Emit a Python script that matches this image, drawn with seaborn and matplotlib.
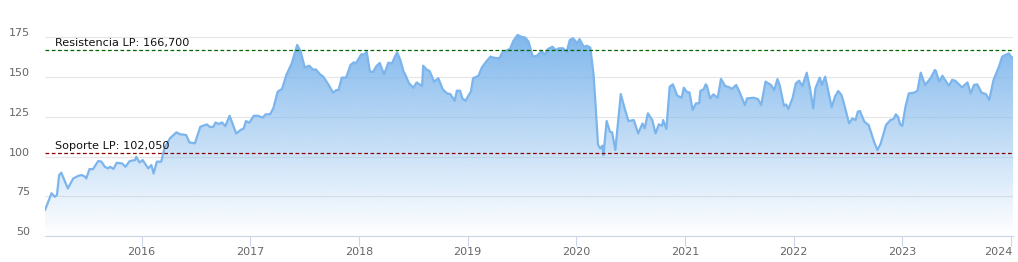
import numpy as np
import pandas as pd
import matplotlib
matplotlib.use("Agg")
import matplotlib.pyplot as plt
import matplotlib.dates as mdates
from matplotlib.transforms import ScaledTranslation, blended_transform_factory
import seaborn as sns

# ---- data ----
fecha_decimal = [
    2015.11, 2015.17, 2015.20, 2015.22, 2015.24, 2015.26, 2015.32, 2015.37, 2015.42, 2015.45,
    2015.48, 2015.49, 2015.52, 2015.55, 2015.60, 2015.63, 2015.66, 2015.69, 2015.71, 2015.74,
    2015.77, 2015.82, 2015.85, 2015.89, 2015.94, 2015.95, 2015.98, 2016.01, 2016.06, 2016.09,
    2016.11, 2016.14, 2016.18, 2016.21, 2016.26, 2016.32, 2016.35, 2016.41, 2016.44, 2016.49,
    2016.54, 2016.60, 2016.63, 2016.66, 2016.68, 2016.71, 2016.74, 2016.77, 2016.81, 2016.87,
    2016.91, 2016.94, 2016.96, 2016.99, 2017.03, 2017.07, 2017.11, 2017.14, 2017.18, 2017.21,
    2017.25, 2017.29, 2017.33, 2017.38, 2017.43, 2017.46, 2017.50, 2017.54, 2017.58, 2017.60,
    2017.64, 2017.67, 2017.72, 2017.76, 2017.79, 2017.81, 2017.84, 2017.88, 2017.92, 2017.95,
    2017.97, 2018.02, 2018.05, 2018.07, 2018.10, 2018.13, 2018.16, 2018.19, 2018.23, 2018.27,
    2018.30, 2018.35, 2018.38, 2018.41, 2018.42, 2018.46, 2018.50, 2018.53, 2018.58, 2018.59,
    2018.62, 2018.65, 2018.69, 2018.73, 2018.77, 2018.81, 2018.84, 2018.88, 2018.90, 2018.93,
    2018.95, 2018.98, 2019.01, 2019.03, 2019.05, 2019.10, 2019.13, 2019.17, 2019.21, 2019.24,
    2019.29, 2019.32, 2019.39, 2019.42, 2019.46, 2019.49, 2019.53, 2019.56, 2019.60, 2019.64,
    2019.68, 2019.71, 2019.74, 2019.78, 2019.81, 2019.84, 2019.88, 2019.91, 2019.94, 2019.97,
    2020.01, 2020.03, 2020.07, 2020.10, 2020.13, 2020.16, 2020.18, 2020.20, 2020.22, 2020.24,
    2020.25, 2020.28, 2020.31, 2020.33, 2020.36, 2020.41, 2020.45, 2020.48, 2020.53, 2020.57,
    2020.61, 2020.63, 2020.66, 2020.70, 2020.73, 2020.76, 2020.79, 2020.80, 2020.83, 2020.86,
    2020.89, 2020.93, 2020.97, 2020.99, 2021.02, 2021.04, 2021.07, 2021.10, 2021.13, 2021.14,
    2021.17, 2021.19, 2021.20, 2021.23, 2021.26, 2021.30, 2021.33, 2021.37, 2021.41, 2021.43,
    2021.47, 2021.50, 2021.55, 2021.57, 2021.63, 2021.67, 2021.70, 2021.74, 2021.79, 2021.82,
    2021.85, 2021.87, 2021.91, 2021.93, 2021.95, 2021.99, 2022.02, 2022.05, 2022.08, 2022.12,
    2022.15, 2022.18, 2022.20, 2022.24, 2022.26, 2022.29, 2022.35, 2022.38, 2022.41, 2022.44,
    2022.46, 2022.51, 2022.54, 2022.57, 2022.59, 2022.61, 2022.65, 2022.69, 2022.74, 2022.77,
    2022.80, 2022.85, 2022.89, 2022.92, 2022.94, 2022.96, 2022.98, 2023.00, 2023.03, 2023.06,
    2023.11, 2023.14, 2023.17, 2023.21, 2023.26, 2023.30, 2023.31, 2023.34, 2023.37, 2023.40,
    2023.43, 2023.46, 2023.49, 2023.55, 2023.60, 2023.63, 2023.66, 2023.69, 2023.73, 2023.77,
    2023.80, 2023.84, 2023.89, 2023.92, 2023.98, 2024.01, 2024.02,
]
precio = [
    66.4, 77.0, 74.8, 75.8, 88.4, 89.9, 80.0, 86.3, 88.0, 88.4,
    87.3, 86.3, 92.2, 92.0, 97.2, 96.8, 93.6, 92.6, 93.6, 92.2,
    96.1, 95.7, 93.6, 97.2, 97.8, 99.9, 96.3, 97.8, 92.6, 94.7,
    89.4, 96.8, 96.8, 105.1, 111.4, 115.2, 114.1, 113.5, 108.9, 108.3,
    118.7, 120.2, 118.5, 118.7, 121.4, 120.4, 121.4, 119.1, 125.6, 114.5,
    116.6, 117.7, 122.3, 121.2, 125.6, 125.6, 124.4, 126.5, 126.5, 130.2,
    140.7, 142.4, 151.2, 158.5, 170.0, 166.2, 155.8, 157.0, 154.3, 154.7,
    151.6, 150.1, 144.9, 140.1, 141.7, 141.7, 149.5, 149.5, 157.4, 159.1,
    158.5, 164.1, 164.1, 165.8, 153.2, 153.2, 156.8, 158.7, 151.6, 158.9,
    158.3, 165.4, 160.6, 153.2, 152.2, 145.9, 143.2, 146.5, 144.2, 157.0,
    154.7, 153.6, 147.0, 149.1, 142.2, 139.6, 139.2, 135.0, 141.3, 141.3,
    136.5, 135.0, 138.6, 140.7, 149.1, 150.7, 155.8, 159.5, 162.7, 162.0,
    161.6, 165.4, 167.5, 172.5, 176.3, 175.2, 174.6, 172.1, 162.7, 163.3,
    166.2, 164.1, 167.5, 168.9, 166.8, 167.9, 167.9, 165.4, 173.1, 174.2,
    171.0, 173.7, 168.9, 169.5, 168.3, 151.2, 130.2, 107.6, 105.1, 106.8,
    100.9, 122.3, 115.6, 115.2, 104.1, 139.2, 129.2, 122.3, 122.9, 114.5,
    120.8, 117.7, 127.1, 122.9, 114.5, 120.2, 119.3, 122.9, 117.3, 143.8,
    145.3, 138.2, 136.9, 143.2, 140.3, 140.3, 129.2, 133.4, 133.4, 141.1,
    142.2, 145.3, 144.5, 136.5, 139.0, 136.9, 148.7, 144.2, 143.4, 142.4,
    144.9, 140.7, 132.3, 136.5, 136.9, 136.1, 132.3, 147.0, 144.9, 141.7,
    148.6, 144.9, 131.9, 132.7, 129.8, 136.9, 145.9, 147.6, 144.2, 152.6,
    142.8, 130.2, 142.8, 149.5, 144.9, 150.1, 130.9, 137.6, 141.1, 138.6,
    134.0, 120.8, 123.9, 122.9, 128.1, 128.6, 121.9, 119.8, 109.3, 104.1,
    108.0, 119.8, 122.9, 123.6, 126.5, 125.0, 120.2, 119.3, 131.3, 139.6,
    140.1, 141.3, 152.6, 144.9, 149.1, 154.3, 153.6, 147.0, 150.7, 147.4,
    144.5, 148.2, 147.4, 143.4, 146.5, 139.6, 144.9, 145.3, 140.1, 139.2,
    135.5, 148.0, 156.4, 162.7, 164.7, 162.0, 162.0,
]
resistencia = 166.7
soporte = 102.05
etiqueta_resistencia = "Resistencia LP: 166,700"
etiqueta_soporte = "Soporte LP: 102,050"
y_ticks = [50, 75, 100, 125, 150, 175]
anios = [2016, 2017, 2018, 2019, 2020, 2021, 2022, 2023, 2024]
y_min, y_max = 50, 180


def a_fecha(d):
    yr = int(np.floor(d))
    return pd.Timestamp(yr, 1, 1) + pd.Timedelta(days=(d - yr) * 365.25)


df = pd.DataFrame({"fecha": [a_fecha(d) for d in fecha_decimal], "precio": precio})

sns.set_theme(style="white")
plt.rcParams["font.family"] = ["DejaVu Sans"]

W, H = 1018, 262
fig = plt.figure(figsize=(W / 100, H / 100), dpi=100)
ax = fig.add_axes([45 / W, (H - 236.3) / H, 968 / W, (236.3 - 29) / H])

line_color = "#7cb5ec"
x0, x1 = df["fecha"].iloc[0], df["fecha"].iloc[-1]

# gradient fill under the line
poly = ax.fill_between(df["fecha"], df["precio"], y_min, color="none", lw=0)
n = 256
grad = np.zeros((n, 1, 4))
rgb = np.array(matplotlib.colors.to_rgb(line_color))
grad[:, 0, :3] = rgb
grad[:, 0, 3] = np.linspace(0.0, 1.0, n)
im = ax.imshow(grad, extent=[mdates.date2num(x0), mdates.date2num(x1), y_min, y_max],
               origin="lower", aspect="auto", zorder=1, interpolation="bicubic")
path = poly.get_paths()[0]
im.set_clip_path(path, transform=ax.transData)

sns.lineplot(data=df, x="fecha", y="precio", ax=ax, color=line_color, linewidth=1.6, zorder=3)

# support / resistance lines
ax.axhline(resistencia, color="#006400", lw=0.9, ls=(0, (3, 2)), zorder=4)
ax.axhline(soporte, color="#8b0000", lw=0.9, ls=(0, (3, 2)), zorder=4)
tr = blended_transform_factory(ax.transAxes, ax.transData)
ax.text(10 / 968, resistencia + 1.2, etiqueta_resistencia, transform=tr, fontsize=8.1,
        color="#111111", va="bottom", ha="left", zorder=5)
ax.text(10 / 968, soporte + 1.2, etiqueta_soporte, transform=tr, fontsize=8.1,
        color="#111111", va="bottom", ha="left", zorder=5)

ax.set_xlim(x0, x1)
ax.set_ylim(y_min, y_max)
ax.set_yticks(y_ticks)
ax.set_xticks([pd.Timestamp(a, 1, 1) for a in anios])
ax.set_xticklabels([str(a) for a in anios])
ax.set_xlabel("")
ax.set_ylabel("")

ax.grid(axis="y", color="#e6e6e6", lw=0.8, zorder=0)
ax.grid(axis="x", visible=False)
ax.set_axisbelow(True)
for s in ["top", "right", "left"]:
    ax.spines[s].set_visible(False)
ax.spines["bottom"].set_color("#ccd6eb")
ax.spines["bottom"].set_linewidth(0.8)
ax.spines["bottom"].set_zorder(6)

ax.tick_params(axis="x", direction="out", length=7, width=0.8, color="#ccd6eb",
               labelsize=8, labelcolor="#666666", pad=1, bottom=True)
ax.tick_params(axis="y", length=0, labelsize=8, labelcolor="#666666", pad=11)
off = ScaledTranslation(0, 5 / 100, fig.dpi_scale_trans)
for lab in ax.get_yticklabels():
    lab.set_transform(lab.get_transform() + off)

# keep the last year label inside the figure (right-aligned to its tick)
last = ax.get_xticklabels()[-1]
last.set_horizontalalignment("right")
last.set_transform(last.get_transform() + ScaledTranslation(2 / 100, 0, fig.dpi_scale_trans))

fig.savefig("out.png", dpi=100, facecolor="white")
